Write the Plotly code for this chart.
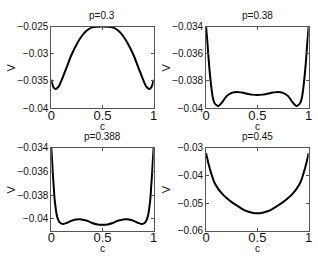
import plotly.graph_objects as go

W, H = 318, 261

titles = ["p=0.3", "p=0.38", "p=0.388", "p=0.45"]

c1 = [0, 0.02, 0.04, 0.07, 0.1, 0.15, 0.2, 0.25, 0.3, 0.35, 0.4, 0.45, 0.5,
      0.55, 0.6, 0.65, 0.7, 0.75, 0.8, 0.85, 0.9, 0.93, 0.96, 0.98, 1]
v1 = [-0.0348, -0.0361, -0.0365, -0.0361, -0.0349, -0.0325, -0.0301, -0.0282, -0.0267, -0.0257, -0.02515, -0.02503, -0.0250,
      -0.02503, -0.02515, -0.0257, -0.0267, -0.0282, -0.0301, -0.0325, -0.0349, -0.0361, -0.0365, -0.0361, -0.0348]

c2 = [0, 0.01, 0.02, 0.03, 0.04, 0.05, 0.065, 0.08, 0.1, 0.115, 0.13, 0.16, 0.2, 0.25, 0.3, 0.35, 0.4, 0.45, 0.5,
      0.55, 0.6, 0.65, 0.7, 0.75, 0.8, 0.84, 0.87, 0.885, 0.9, 0.92, 0.935, 0.95, 0.96, 0.97, 0.98, 0.99, 1]
v2 = [-0.0340, -0.0349, -0.0359, -0.0369, -0.0377, -0.0384, -0.0392, -0.0396, -0.03978, -0.03984, -0.03979, -0.03955,
      -0.03912, -0.03888, -0.03881, -0.03886, -0.03894, -0.03901, -0.03903,
      -0.03901, -0.03894, -0.03886, -0.03881, -0.03888, -0.03912, -0.03955, -0.03979, -0.03984, -0.03978, -0.0396,
      -0.0392, -0.0384, -0.0377, -0.0369, -0.0359, -0.0349, -0.0340]

c3 = [0, 0.008, 0.016, 0.024, 0.032, 0.043, 0.054, 0.066, 0.08, 0.1, 0.12, 0.15, 0.2, 0.24, 0.28, 0.32, 0.36, 0.4, 0.45, 0.5,
      0.55, 0.6, 0.64, 0.68, 0.72, 0.76, 0.8, 0.85, 0.88, 0.9, 0.92, 0.934, 0.946, 0.957, 0.968, 0.976, 0.984, 0.992, 1]
v3 = [-0.0340, -0.0351, -0.0363, -0.0373, -0.0383, -0.0391, -0.0397, -0.04005, -0.04028, -0.0404, -0.04043, -0.04035,
      -0.04015, -0.04006, -0.04004, -0.0401, -0.0402, -0.04035, -0.04047, -0.0405,
      -0.04047, -0.04035, -0.0402, -0.0401, -0.04004, -0.04006, -0.04015, -0.04035, -0.04043, -0.0404, -0.04028,
      -0.04005, -0.0397, -0.0391, -0.0383, -0.0373, -0.0363, -0.0351, -0.0340]

c4 = [0, 0.025, 0.05, 0.08, 0.12, 0.16, 0.2, 0.25, 0.3, 0.35, 0.4, 0.45, 0.5,
      0.55, 0.6, 0.65, 0.7, 0.75, 0.8, 0.84, 0.88, 0.92, 0.95, 0.975, 1]
v4 = [-0.0320, -0.0360, -0.0393, -0.0425, -0.0450, -0.0468, -0.0482, -0.0497, -0.0509, -0.0521, -0.0530, -0.0535, -0.0537,
      -0.0535, -0.0530, -0.0521, -0.0509, -0.0497, -0.0482, -0.0468, -0.0450, -0.0425, -0.0393, -0.0360, -0.0320]

x_ticks = [0, 0.5, 1]
x_ticklabels = ["0", "0.5", "1"]
y_ticks = [
    [-0.04, -0.035, -0.03, -0.025],
    [-0.04, -0.038, -0.036, -0.034],
    [-0.04, -0.038, -0.036, -0.034],
    [-0.06, -0.05, -0.04, -0.03],
]
y_ticklabels = [
    ["\u22120.04", "\u22120.035", "\u22120.03", "\u22120.025"],
    ["\u22120.04", "\u22120.038", "\u22120.036", "\u22120.034"],
    ["\u22120.04", "\u22120.038", "\u22120.036", "\u22120.034"],
    ["\u22120.06", "\u22120.05", "\u22120.04", "\u22120.03"],
]
y_ranges = [[-0.04, -0.025], [-0.04, -0.034], [-0.041, -0.034], [-0.06, -0.03]]

series = [(c1, v1), (c2, v2), (c3, v3), (c4, v4)]

# pixel boxes (left, right, top, bottom)
boxes = [(48.5, 153.5, 21.5, 107.0), (207.3, 312.5, 21.5, 107.0),
         (48.5, 153.5, 148.5, 235.5), (207.3, 312.5, 148.5, 235.5)]

FONT = "Liberation Sans, Arial, sans-serif"
fig = go.Figure()
ann = []
layout = dict(
    width=W, height=H, margin=dict(l=0, r=0, t=0, b=0),
    paper_bgcolor="white", plot_bgcolor="white", showlegend=False,
    font=dict(family=FONT, size=10, color="#111"),
)
for i, ((cx, vy), (l, r, t, b)) in enumerate(zip(series, boxes)):
    k = "" if i == 0 else str(i + 1)
    fig.add_trace(go.Scatter(x=cx, y=vy, mode="lines", line=dict(color="black", width=2, shape="spline", smoothing=1.0),
                             xaxis="x" + k, yaxis="y" + k, hoverinfo="skip"))
    common = dict(showgrid=False, zeroline=False, showline=True, linecolor="#555", linewidth=1,
                  mirror="ticks", ticks="inside", ticklen=3, tickcolor="#555", tickwidth=1)
    layout["xaxis" + k] = dict(domain=[l / W, r / W], range=[0, 1], tickvals=x_ticks, ticktext=x_ticklabels,
                               anchor="y" + k, ticklabelstandoff=-5,
                               tickfont=dict(family=FONT, size=13, color="#111"), **common)
    layout["yaxis" + k] = dict(domain=[1 - b / H, 1 - t / H], range=y_ranges[i], tickvals=y_ticks[i],
                               ticktext=y_ticklabels[i], anchor="x" + k,
                               tickfont=dict(family=FONT, size=10, color="#111"), **common)
    xc = (l + r) / 2 / W
    ann.append(dict(text=titles[i], x=xc, y=1 - (t - 11.5) / H, xref="paper", yref="paper",
                    showarrow=False, xanchor="center", yanchor="middle", font=dict(size=10, family=FONT, color="#111")))
    ann.append(dict(text="c", x=xc, y=1 - (b + 19) / H, xref="paper", yref="paper",
                    showarrow=False, xanchor="center", yanchor="middle", font=dict(size=10, family=FONT, color="#111")))
    ann.append(dict(text="V", x=(l - 41) / W, y=1 - (t + b) / 2 / H, xref="paper", yref="paper", textangle=-90,
                    showarrow=False, xanchor="center", yanchor="middle", font=dict(size=11, family=FONT, color="#111")))

layout["annotations"] = ann
fig.update_layout(**layout)
fig.write_html("out.html", config={"displayModeBar": False},
               post_script="document.body.style.margin='0';document.body.style.padding='0';"
                           "document.body.style.overflow='hidden';")
